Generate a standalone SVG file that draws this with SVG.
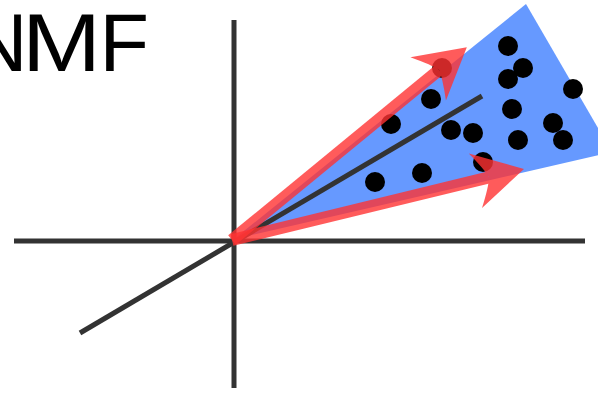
<svg xmlns="http://www.w3.org/2000/svg" width="598" height="393" viewBox="0 0 598 393">
<style>
.axis{stroke:#333;stroke-width:5;fill:none}
.dot{fill:#000}
.arrow{stroke:#ff3333;stroke-width:12;fill:none}
.arrowgrp{opacity:0.8}
.title{font-family:"Liberation Sans",Arial,sans-serif;font-size:81px;fill:#000}
</style>
<defs>
<marker id="head" markerUnits="userSpaceOnUse" orient="auto" markerWidth="60" markerHeight="70" refX="20" refY="35" viewBox="0 0 60 70" overflow="visible">
<path d="M56 35 L6 7 Q18 27 20 35 Q18 43 6 63 Z" fill="#ff3333"/>
</marker>
</defs>
<rect width="598" height="393" fill="#fff"/>
<text class="title" y="71"><tspan x="-31">N</tspan><tspan x="22" textLength="79" lengthAdjust="spacingAndGlyphs">M</tspan><tspan x="99.5">F</tspan></text>
<polygon id="cone" points="234,239 526,4 612,152" fill="#6699ff"/>
<g id="axes">
<line class="axis" x1="234" y1="20" x2="234" y2="388"/>
<line class="axis" x1="14" y1="241" x2="585" y2="241"/>
<line class="axis" x1="80" y1="333" x2="482" y2="96"/>
</g>
<g id="dots">
<circle class="dot" cx="508" cy="46" r="10"/>
<circle class="dot" cx="523" cy="68" r="10"/>
<circle class="dot" cx="508" cy="79" r="10"/>
<circle class="dot" cx="573" cy="89" r="10"/>
<circle class="dot" cx="431" cy="99" r="10"/>
<circle class="dot" cx="512" cy="109" r="10"/>
<circle class="dot" cx="391" cy="124" r="10"/>
<circle class="dot" cx="451" cy="130" r="10"/>
<circle class="dot" cx="473" cy="133" r="10"/>
<circle class="dot" cx="553" cy="123" r="10"/>
<circle class="dot" cx="518" cy="140" r="10"/>
<circle class="dot" cx="563" cy="140" r="10"/>
<circle class="dot" cx="483" cy="162" r="10"/>
<circle class="dot" cx="422" cy="173" r="10"/>
<circle class="dot" cx="375" cy="182" r="10"/>
<circle class="dot" cx="442" cy="68" r="10"/>
</g>
<g id="connectors">
<g class="arrowgrp"><line class="arrow" x1="232" y1="240" x2="439" y2="70" marker-end="url(#head)"/></g>
<g class="arrowgrp"><line class="arrow" x1="232" y1="240" x2="489" y2="177.4" marker-end="url(#head)"/></g>
</g>
</svg>
